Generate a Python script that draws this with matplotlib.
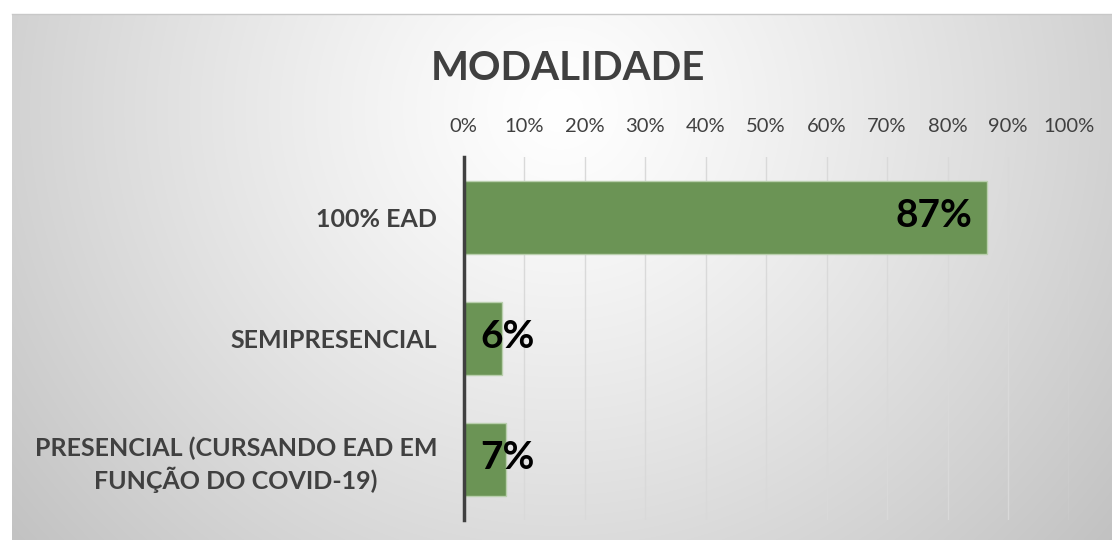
import numpy as np
import matplotlib.pyplot as plt

categorias = ["100% EAD", "SEMIPRESENCIAL", "PRESENCIAL (CURSANDO EAD EM\nFUNÇÃO DO COVID-19)"]
valores = [0.865, 0.064, 0.071]
rotulos = ["87%", "6%", "7%"]
ticks = [i / 10 for i in range(11)]
tick_labels = [f"{int(t * 100)}%" for t in ticks]

plt.rcParams['font.family'] = ['Lato', 'DejaVu Sans']

W, H = 1112, 540
fig = plt.figure(figsize=(W / 100, H / 100), dpi=100)
fig.patch.set_facecolor('white')

# radial background of the chart area
bx0, by_top = 12, 14
bw, bh = W - bx0, H - by_top
yy, xx = np.mgrid[0:bh, 0:bw]
d = np.sqrt((xx - (560 - bx0)) ** 2 + ((yy - (110 - by_top)) * 1.05) ** 2)
v = 255 - 60 * np.clip(d / 700, 0, 1.2) ** 1.2
img = np.dstack([v, v, v]).astype(np.uint8)
bg = fig.add_axes([bx0 / W, 0, bw / W, bh / H], zorder=-1)
bg.imshow(img, aspect='auto', interpolation='bilinear')
bg.axis('off')
fig.add_artist(plt.Line2D([bx0 / W, 1], [1 - by_top / H, 1 - by_top / H],
                          transform=fig.transFigure, color='#c8c8c8', lw=1))

left, right, top, bottom = 463.5, 1068.5, 157, 520
ax = fig.add_axes([left / W, 1 - bottom / H, (right - left) / W, (bottom - top) / H])
ax.set_facecolor('none')

y = np.arange(len(categorias))
ax.barh(y, valores, height=0.6, color='#6b9455', edgecolor='#b9cfad', lw=1, zorder=2)
ax.set_xlim(0, 1)
ax.set_ylim(len(categorias) - 0.5, -0.5)

ax.set_xticks(ticks)
ax.set_xticklabels(tick_labels, fontsize=14.5, color='#404040')
ax.xaxis.tick_top()
ax.tick_params(axis='x', length=0, pad=16)
ax.set_yticks(y)
ax.set_yticklabels(categorias, fontsize=18, fontweight='bold', color='#404040',
                   multialignment='center', linespacing=1.3)
ax.tick_params(axis='y', length=0, pad=19)

ax.grid(axis='x', color='#d9d9d9', lw=1, zorder=1)
for s in ['top', 'right', 'bottom']:
    ax.spines[s].set_visible(False)
ax.spines['left'].set_color('#404040')
ax.spines['left'].set_linewidth(2.5)
ax.spines['left'].set_zorder(3)

for yi, val, lab in zip(y, valores, rotulos):
    if val > 0.5:
        ax.annotate(lab, (val, yi), xytext=(-14, 2), textcoords='offset pixels',
                    ha='right', va='center', fontsize=28, fontweight='bold', color='black', zorder=4)
    else:
        ax.annotate(lab, (0, yi), xytext=(17, 2), textcoords='offset pixels',
                    ha='left', va='center', fontsize=28, fontweight='bold', color='black', zorder=4)

fig.text(568 / W, 1 - 68 / H, "MODALIDADE", ha='center', va='center',
         fontsize=29, fontweight='bold', color='#404040')

fig.savefig('out.png', dpi=100)
